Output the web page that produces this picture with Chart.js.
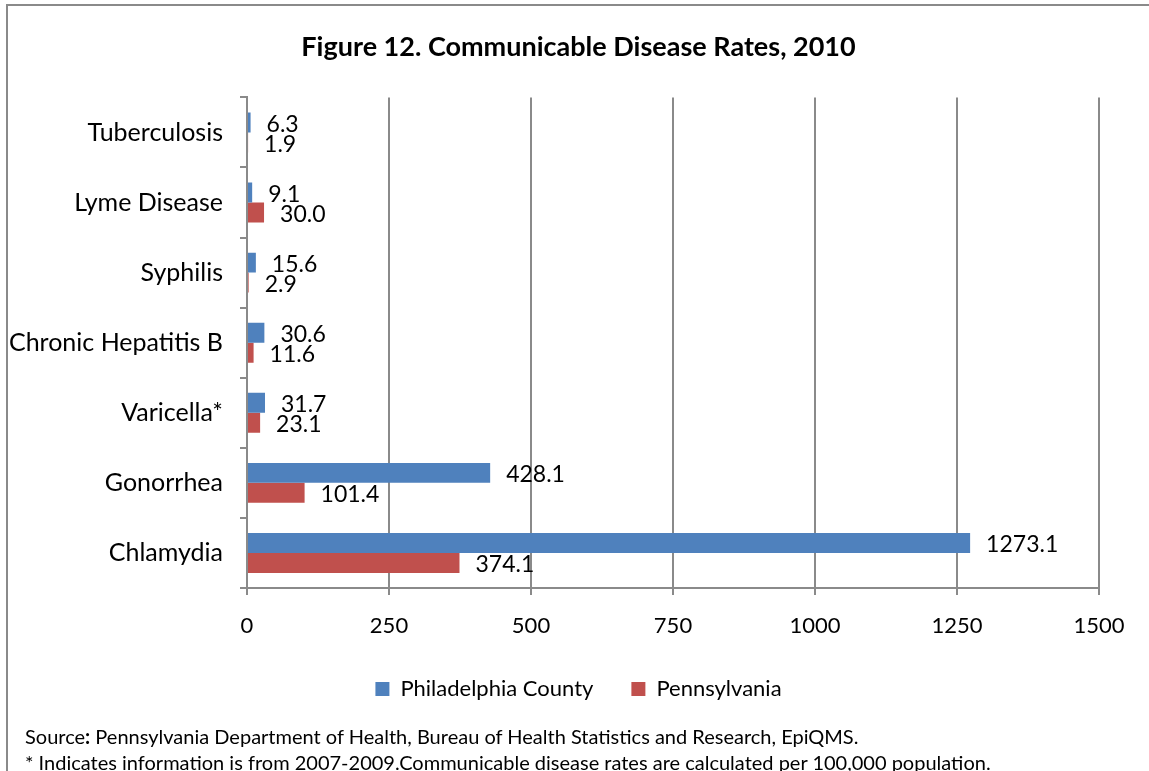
<!DOCTYPE html>
<html>
<head>
<meta charset="utf-8">
<script src="https://cdn.jsdelivr.net/npm/chart.js@4/dist/chart.umd.min.js"></script>
<style>
  body { margin: 0; background: #fff; overflow: hidden; }
  #wrap { position: relative; width: 1149px; height: 771px; }
  #frame { position: absolute; left: 6px; top: 4px; width: 1170px; height: 800px; border: 2px solid #8a8a8a; }
  #chart { position: absolute; left: 0; top: 0; }
  .note { position: absolute; left: 25px; font-family: Lato, sans-serif; font-size: 20px; line-height: 24px; color: #000; white-space: nowrap; }
</style>
</head>
<body>
<div id="wrap">
  <div id="frame"></div>
  <canvas id="chart" width="1149" height="771"></canvas>
  <div class="note" style="top:724px">Source<b>:</b> Pennsylvania Department of Health, Bureau of Health Statistics and Research, EpiQMS.</div>
  <div class="note" style="top:750px">* Indicates information is from 2007-2009.Communicable disease rates are calculated per 100,000 population.</div>
</div>
<script>
/*--------------------DATA--------------------*/
let diseases = ['Tuberculosis', 'Lyme Disease', 'Syphilis', 'Chronic Hepatitis B', 'Varicella*', 'Gonorrhea', 'Chlamydia'];
let philadelphia = [6.3, 9.1, 15.6, 30.6, 31.7, 428.1, 1273.1];
let pennsylvania = [1.9, 30.0, 2.9, 11.6, 23.1, 101.4, 374.1];
let xTicks = [0, 250, 500, 750, 1000, 1250, 1500];

/*--------------------PLUGIN--------------------*/
// value labels at the end of each bar
let barLabels = {
    id: 'barLabels',
    afterDatasetsDraw(chart) {
        let ctx = chart.ctx;
        ctx.save();
        ctx.font = '23px Lato';
        ctx.fillStyle = '#000';
        ctx.textAlign = 'left';
        ctx.textBaseline = 'middle';
        chart.data.datasets.forEach((ds, i) => {
            chart.getDatasetMeta(i).data.forEach((bar, j) => {
                ctx.fillText(ds.data[j].toFixed(1), bar.x + 16, bar.y + 2);
            });
        });
        ctx.restore();
    }
};

/*--------------------CHART--------------------*/
let gridColor = '#8a8a8a';
let chart = new Chart(document.getElementById('chart'), {
    type: 'bar',
    data: {
        labels: diseases,
        datasets: [
            { label: 'Philadelphia County', data: philadelphia, backgroundColor: '#4F81BD', borderWidth: 0 },
            { label: 'Pennsylvania', data: pennsylvania, backgroundColor: '#C0504D', borderWidth: 0 }
        ]
    },
    options: {
        indexAxis: 'y',
        responsive: false,
        animation: false,
        layout: { padding: { left: 8, right: 0, top: 0, bottom: 61 } },
        datasets: { bar: { categoryPercentage: 0.57, barPercentage: 1.0 } },
        scales: {
            x: {
                min: 0,
                max: 1500,
                afterBuildTicks: (scale) => { scale.ticks = xTicks.map(v => ({ value: v })); },
                afterFit: (scale) => { scale.height = 52; },
                grid: { color: gridColor, lineWidth: 2, tickLength: 7 },
                border: { color: gridColor, width: 2 },
                ticks: { color: '#000', font: { family: 'Lato', size: 22 }, padding: 18, callback: (v) => String(v) }
            },
            y: {
                afterFit: (scale) => { scale.width = 239; },
                grid: { drawOnChartArea: false, color: gridColor, lineWidth: 2, tickLength: 7 },
                border: { color: gridColor, width: 2 },
                ticks: { color: '#000', font: { family: 'Lato', size: 25 }, padding: 17 }
            },
            // empty right axis, only keeps room on the right of the plot
            yRight: {
                position: 'right',
                afterFit: (scale) => { scale.width = 50; },
                grid: { display: false },
                border: { display: false },
                ticks: { display: false }
            }
        },
        plugins: {
            title: {
                display: true,
                text: 'Figure 12. Communicable Disease Rates, 2010',
                color: '#000',
                font: { family: 'Lato', size: 27, weight: 'bold' },
                padding: { top: 31, bottom: 34 }
            },
            legend: {
                position: 'bottom',
                labels: {
                    color: '#000',
                    font: { family: 'Lato', size: 22 },
                    boxWidth: 14,
                    boxHeight: 14,
                    padding: 38
                }
            },
            tooltip: { enabled: false }
        }
    },
    plugins: [barLabels]
});
</script>
</body>
</html>
